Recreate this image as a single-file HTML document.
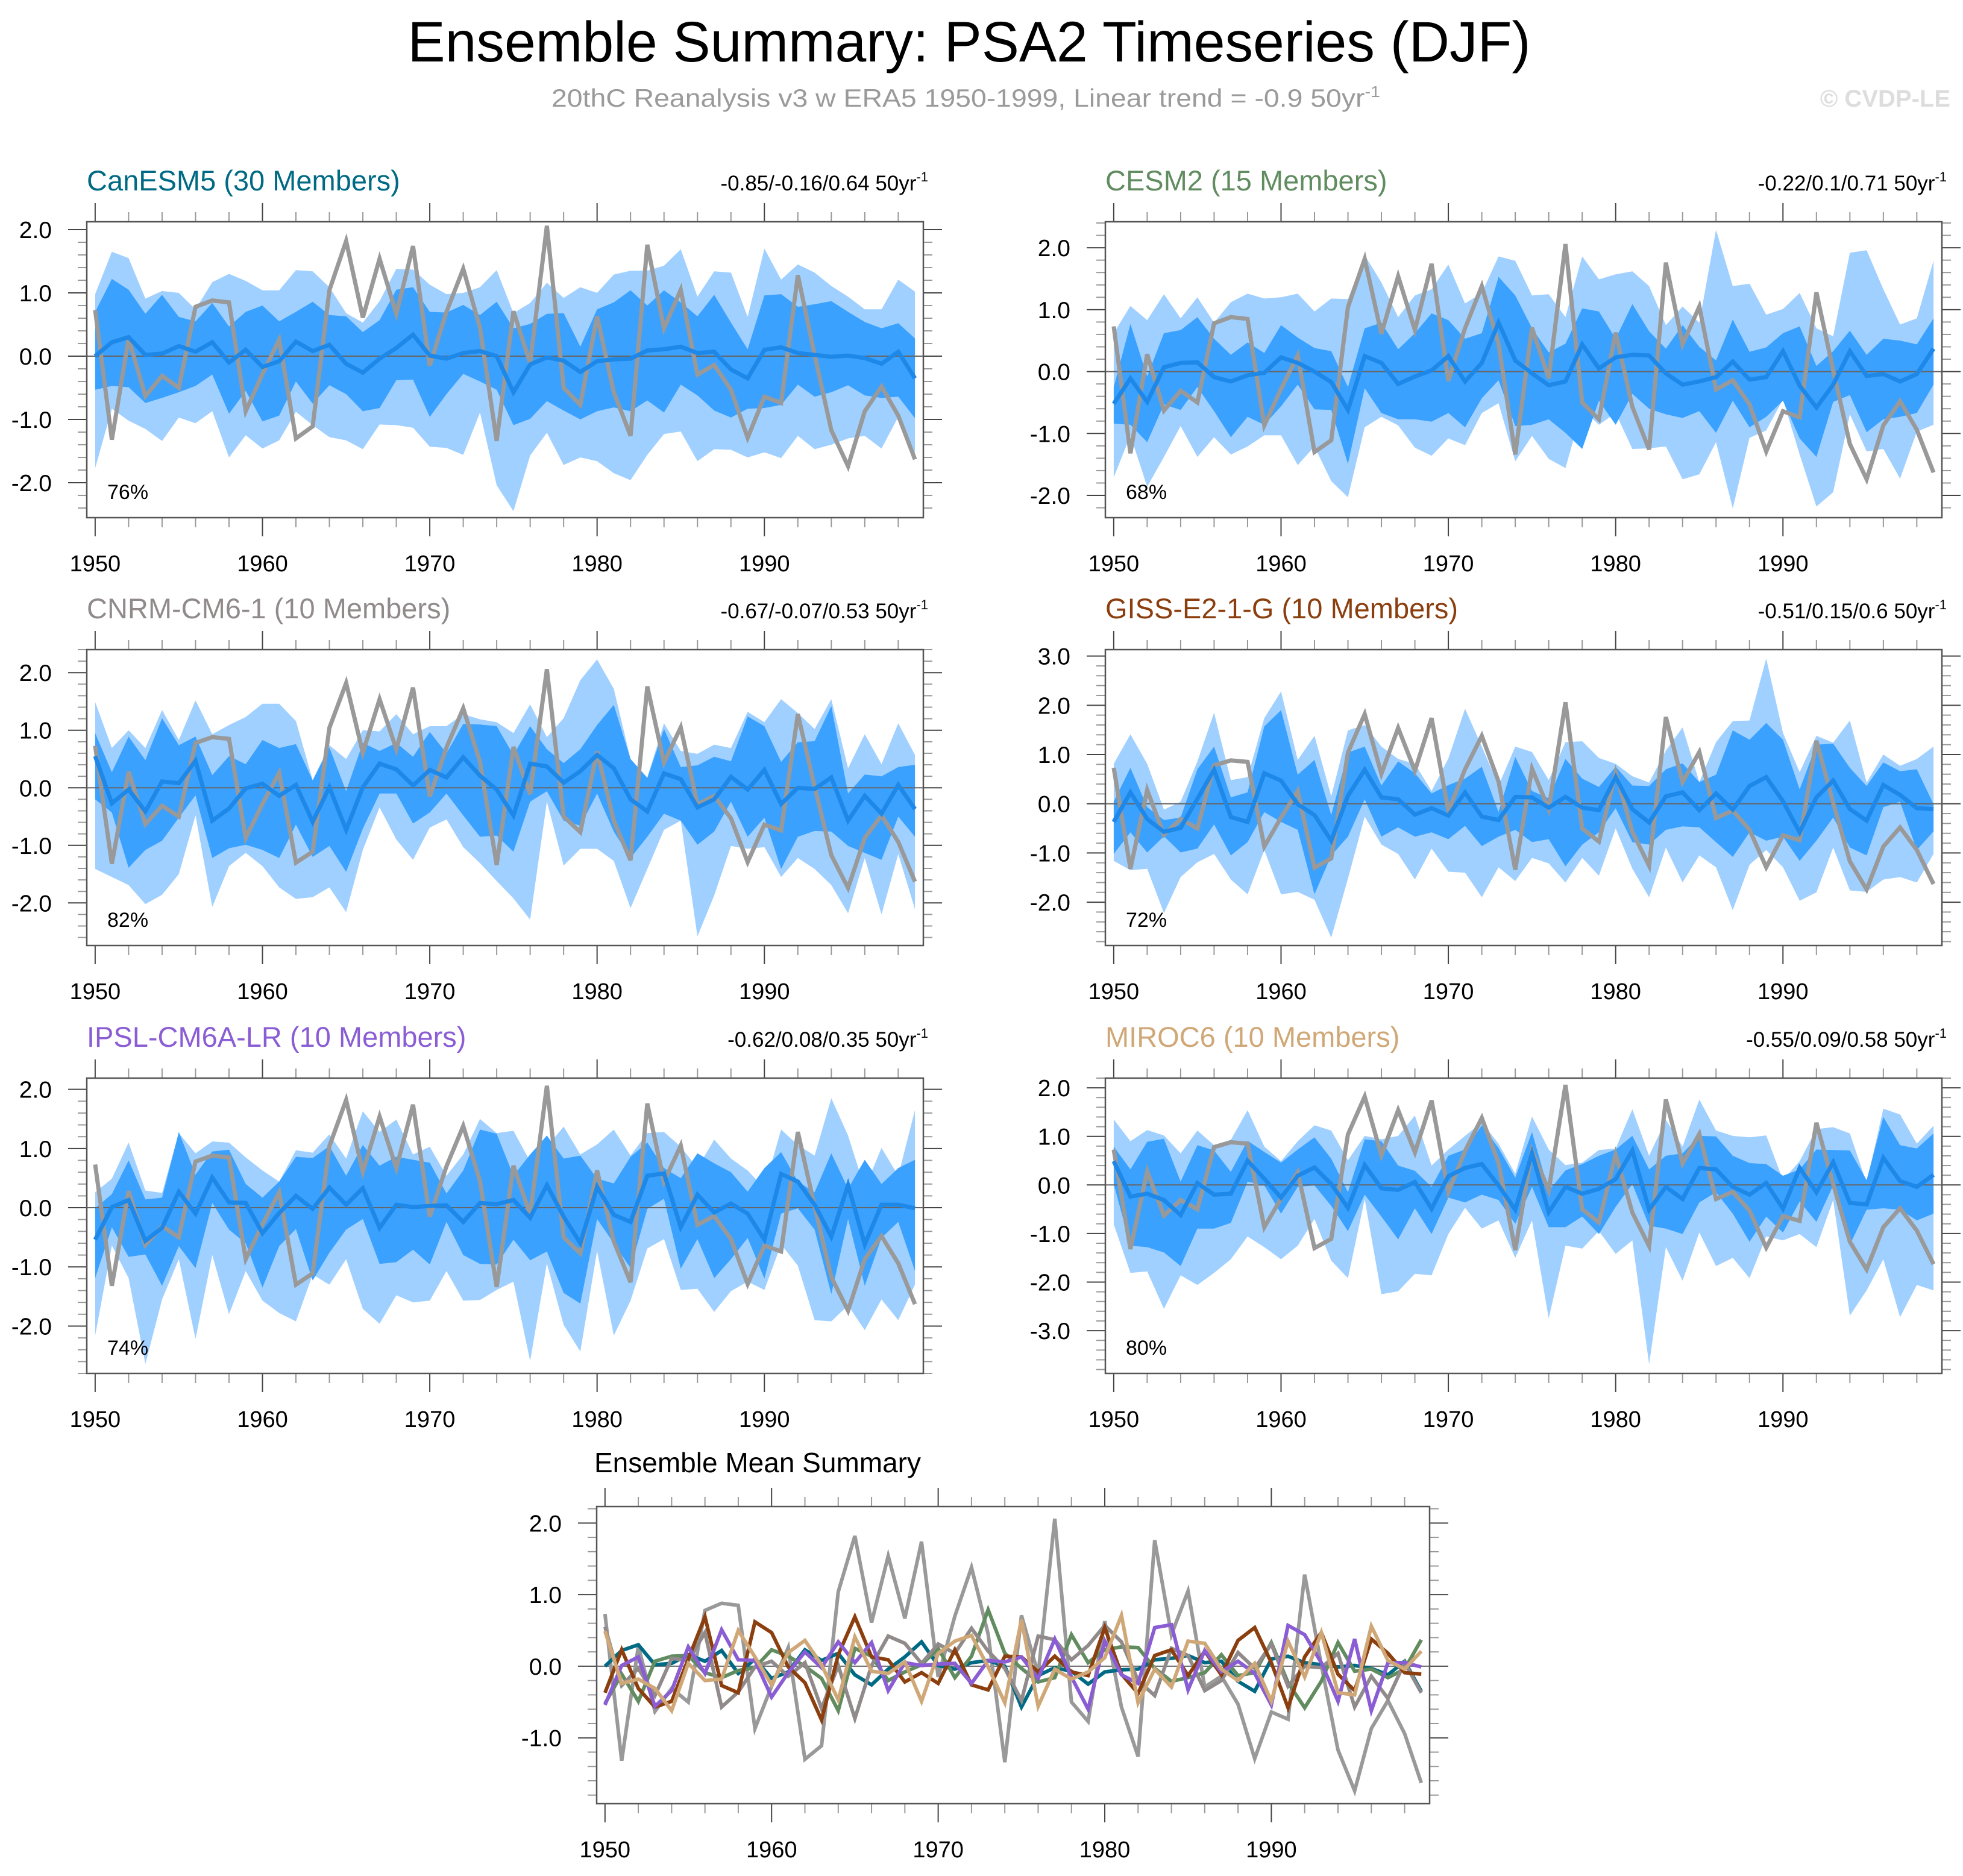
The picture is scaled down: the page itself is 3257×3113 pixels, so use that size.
<!DOCTYPE html>
<html><head><meta charset="utf-8"><title>Ensemble Summary: PSA2 Timeseries (DJF)</title>
<style>
html,body{margin:0;padding:0;background:#fff;}
svg{display:block;font-family:"Liberation Sans",sans-serif;}
</style></head>
<body>
<svg id="chart" xmlns="http://www.w3.org/2000/svg" width="3257" height="3113" viewBox="0 0 3257 3113">
<rect x="0" y="0" width="3257" height="3113" fill="#fff"/>
<text x="1608" y="102" font-size="95" text-anchor="middle" textLength="1863" lengthAdjust="spacingAndGlyphs">Ensemble Summary: PSA2 Timeseries (DJF)</text>
<text x="915" y="177" font-size="42" fill="#9a9a9a" textLength="1375" lengthAdjust="spacingAndGlyphs">20thC Reanalysis v3 w ERA5 1950-1999, Linear trend = -0.9 50yr<tspan dy="-16" font-size="26">-1</tspan></text>
<text x="3236" y="177" font-size="40" font-weight="bold" fill="#dddddd" text-anchor="end">© CVDP-LE</text>
<g id="panels"></g>
</svg>
<script>
const years = [];
for (let y = 1950; y <= 1999; y++) years.push(y);
const xTickLabels = ["1950","1960","1970","1980","1990"];

const obs = [0.73,-1.32,0.28,-0.63,-0.31,-0.50,0.78,0.88,0.85,-0.87,-0.28,0.26,-1.30,-1.11,1.04,1.82,0.61,1.54,0.67,1.74,-0.15,0.70,1.38,0.45,-1.34,0.71,-0.11,2.06,-0.50,-0.77,0.63,-0.57,-1.26,1.76,0.44,1.05,-0.29,-0.14,-0.53,-1.29,-0.64,-0.74,1.28,0.02,-1.17,-1.74,-0.87,-0.48,-0.94,-1.63];

const canMean = [0.0,0.22,0.30,0.02,0.04,0.16,0.07,0.22,-0.10,0.10,-0.17,-0.08,0.23,0.08,0.18,-0.12,-0.26,-0.04,0.13,0.34,0.01,-0.04,0.05,0.08,0.00,-0.57,-0.13,-0.02,-0.07,-0.25,-0.08,-0.05,-0.04,0.09,0.11,0.15,0.05,0.07,-0.21,-0.35,0.10,0.14,0.05,0.02,-0.01,0.01,-0.03,-0.12,0.07,-0.35];
const canDarkHi = [0.70,1.22,1.05,0.67,0.97,0.62,0.55,0.84,0.47,0.70,0.80,0.55,0.70,0.86,0.65,0.63,0.38,0.57,1.05,1.09,0.70,0.69,0.81,0.65,0.86,0.44,0.51,0.67,0.68,0.15,0.74,0.85,1.04,0.80,1.04,0.85,0.63,0.97,0.53,0.11,0.96,0.98,0.78,0.82,0.87,0.70,0.54,0.44,0.52,0.28];
const canDarkLo = [-0.53,-0.47,-0.49,-0.74,-0.66,-0.57,-0.47,-0.29,-0.91,-0.55,-1.03,-0.94,-0.40,-0.75,-0.46,-0.60,-0.87,-0.82,-0.38,-0.37,-0.96,-0.60,-0.28,-0.40,-0.53,-1.09,-0.99,-0.71,-0.86,-1.00,-0.87,-0.81,-0.87,-0.70,-0.89,-0.45,-0.62,-0.86,-0.97,-0.83,-0.82,-0.77,-0.45,-0.64,-0.57,-0.46,-0.62,-0.66,-0.64,-0.98];
const canLightHi = [0.98,1.65,1.55,0.91,1.03,1.00,0.74,1.17,1.30,1.19,1.04,1.04,1.36,1.34,1.09,0.68,0.53,0.87,1.38,1.37,1.13,0.98,1.00,1.09,1.36,0.68,0.84,1.16,0.92,1.09,1.00,1.29,1.35,1.35,1.43,1.69,0.94,1.34,1.32,0.62,1.70,1.21,1.45,1.32,1.11,0.94,0.74,0.74,1.21,1.02];
const canLightLo = [-1.77,-0.83,-1.02,-1.15,-1.34,-0.97,-1.06,-0.87,-1.60,-1.25,-1.46,-1.33,-0.88,-1.09,-1.28,-1.33,-1.47,-1.08,-1.09,-1.13,-1.43,-1.45,-1.56,-0.89,-2.04,-2.45,-1.57,-1.21,-1.72,-1.60,-1.66,-1.85,-1.96,-1.56,-1.23,-1.19,-1.66,-1.47,-1.48,-1.60,-1.52,-1.61,-1.26,-1.47,-1.40,-1.30,-1.26,-1.46,-0.96,-1.53];

const cesMean = [-0.52,-0.11,-0.49,0.07,0.14,0.15,-0.09,-0.16,-0.06,-0.02,0.23,0.14,0.0,-0.17,-0.62,0.25,0.14,-0.20,-0.08,0.02,0.25,-0.16,0.14,0.79,0.18,-0.03,-0.22,-0.16,0.44,0.05,0.23,0.27,0.26,-0.03,-0.21,-0.16,-0.09,0.16,-0.13,-0.09,0.33,-0.23,-0.58,-0.21,0.33,-0.07,-0.04,-0.16,-0.04,0.37];
const cesDarkHi = [-0.25,0.77,-0.08,0.62,0.67,0.88,0.53,0.27,0.47,0.30,0.75,0.55,0.38,0.33,-0.25,0.70,0.79,0.36,0.62,0.94,0.83,0.53,0.62,1.53,1.23,0.70,0.31,0.45,1.02,0.97,0.53,1.09,0.65,0.37,0.75,0.40,0.18,0.84,0.32,0.39,0.62,0.73,0.09,0.33,0.66,0.27,0.53,0.50,0.44,0.86];
const cesDarkLo = [-0.84,-0.86,-1.14,-0.53,-0.62,-0.25,-0.64,-1.06,-0.73,-0.86,-0.56,-0.21,-0.61,-0.62,-1.49,-0.27,-0.67,-0.77,-0.77,-0.81,-0.67,-0.90,-0.43,-0.14,-0.88,-0.86,-0.77,-0.99,-1.25,-0.47,-0.86,-0.36,-0.60,-0.69,-0.75,-0.64,-0.99,-0.47,-0.90,-0.73,-0.47,-1.08,-1.38,-0.49,-0.38,-0.98,-0.77,-0.73,-0.67,-0.21];
const cesLightHi = [0.62,1.06,0.83,1.25,0.86,1.20,0.79,1.12,1.26,1.18,1.20,1.26,0.97,1.18,1.17,1.88,1.44,0.88,1.23,1.33,1.73,1.10,1.27,1.86,1.79,1.23,1.25,0.88,1.86,1.49,1.57,1.62,1.38,0.75,1.05,0.79,2.29,1.38,1.42,0.92,1.01,1.27,0.70,0.57,1.92,1.96,1.33,0.76,0.86,1.79];
const cesLightLo = [-1.71,-1.03,-1.86,-1.38,-0.88,-1.38,-1.06,-1.34,-1.21,-1.03,-1.03,-1.51,-1.21,-1.77,-2.03,-0.90,-0.73,-0.87,-1.23,-1.36,-1.08,-1.19,-0.67,-0.51,-1.45,-1.04,-1.41,-1.56,-0.60,-0.86,-0.67,-1.25,-1.24,-1.21,-1.74,-1.66,-1.14,-2.21,-1.07,-0.95,-0.45,-1.34,-2.18,-1.95,-0.69,-1.29,-1.25,-1.73,-0.97,-0.86];

const cnrmMean = [0.55,-0.27,-0.03,-0.41,0.11,0.08,0.47,-0.57,-0.36,-0.01,0.07,-0.14,0.05,-0.59,0.01,-0.73,0.01,0.42,0.32,0.04,0.31,0.18,0.53,0.21,-0.03,-0.48,0.42,0.37,0.09,0.29,0.57,0.34,-0.20,-0.41,0.25,0.15,-0.34,-0.20,0.19,-0.03,0.31,-0.28,0.0,-0.02,0.18,-0.57,-0.14,-0.45,0.05,-0.37];
const cnrmDarkHi = [0.95,0.27,0.89,0.48,1.21,0.74,0.89,0.22,0.55,0.41,0.83,0.69,0.76,0.13,0.70,-0.06,0.78,0.64,0.78,0.54,0.97,0.60,1.11,1.10,1.07,0.57,1.07,0.67,0.43,0.67,1.09,1.44,0.50,0.17,1.02,0.36,0.39,0.54,0.46,1.24,1.07,0.45,0.79,0.81,1.42,-0.10,0.23,0.20,0.36,0.40];
const cnrmDarkLo = [-0.20,-0.43,-1.39,-1.08,-0.92,-0.52,-0.13,-1.22,-1.05,-0.99,-1.08,-1.22,-0.64,-1.20,-1.01,-1.46,-0.71,-0.10,-0.10,-0.62,-0.43,-0.10,-0.48,-0.85,-0.83,-1.11,-0.24,-0.06,-0.57,-0.66,-0.10,-0.76,-1.22,-0.85,-0.45,-0.57,-0.99,-0.76,-0.24,-0.85,-0.52,-1.41,-0.85,-0.75,-0.76,-1.01,-1.13,-1.25,-0.50,-0.85];
const cnrmLightHi = [1.49,0.69,1.00,0.69,1.35,0.83,1.52,0.93,1.09,1.23,1.46,1.46,1.16,0.13,0.74,0.50,1.00,0.98,1.28,0.93,1.07,1.07,1.28,1.19,1.14,0.95,1.45,0.88,1.21,1.87,2.23,1.72,0.50,0.18,1.12,0.64,0.59,0.75,0.69,1.32,1.14,1.54,1.30,1.02,1.54,0.34,0.93,0.41,1.12,0.57];
const cnrmLightLo = [-1.41,-1.55,-1.69,-2.02,-1.86,-1.50,-0.48,-2.07,-1.36,-1.13,-1.36,-1.73,-1.93,-1.90,-1.73,-2.16,-1.08,-0.34,-0.90,-1.25,-0.69,-0.55,-1.03,-1.31,-1.62,-1.92,-2.29,-0.24,-1.35,-1.06,-1.06,-1.27,-2.09,-1.41,-0.73,-0.57,-2.58,-1.87,-1.01,-1.06,-1.03,-1.55,-1.22,-1.41,-1.69,-2.18,-1.22,-2.20,-1.15,-2.11];

const gissMean = [-0.37,0.23,-0.31,-0.57,-0.49,0.10,0.69,-0.27,-0.37,0.62,0.47,-0.01,-0.23,-0.75,0.16,0.69,0.13,0.09,-0.22,-0.09,-0.24,0.23,-0.26,-0.33,0.14,0.13,-0.08,0.14,-0.08,-0.13,0.54,-0.11,-0.38,0.15,0.23,-0.13,0.21,-0.12,0.36,0.54,0.05,-0.58,0.13,0.47,-0.11,-0.34,0.38,0.18,-0.09,-0.11];
const gissDarkHi = [0.04,0.73,-0.07,-0.33,-0.28,0.70,1.16,0.13,0.23,1.57,1.90,0.59,0.89,-0.23,1.04,1.16,0.37,0.86,0.62,0.21,0.38,0.51,0.75,-0.17,0.95,0.26,0.11,0.91,0.51,0.34,0.75,0.37,0.36,0.70,0.82,0.44,0.59,1.49,1.30,1.64,1.30,0.29,1.20,1.22,0.73,0.36,0.84,0.66,0.70,-0.01];
const gissDarkLo = [-1.02,-0.58,-0.99,-0.66,-0.99,-0.91,-0.42,-1.05,-0.78,-0.17,-0.37,-0.53,-1.84,-1.05,-0.67,0.09,-0.67,-0.48,-0.67,-0.58,-0.72,-0.45,-0.86,-0.67,-0.53,-0.78,-0.72,-1.27,-0.83,-0.58,-0.09,-0.78,-0.83,-0.53,-0.46,-0.48,-0.78,-1.08,-0.58,-0.75,-0.67,-1.16,-0.75,-0.28,-0.89,-1.05,-0.07,0.04,-0.94,-0.56];
const gissLightHi = [0.81,1.41,0.81,-0.12,0.04,0.86,1.85,0.48,0.54,1.74,2.28,0.89,1.38,0.15,1.49,1.60,1.16,0.91,0.81,0.26,0.92,1.93,1.16,0.37,1.16,1.05,0.48,1.25,1.27,0.93,0.81,0.56,0.43,1.08,1.55,0.44,1.25,1.68,1.69,2.95,1.44,0.64,1.38,1.24,1.69,0.43,1.00,0.77,0.91,1.16];
const gissLightLo = [-1.16,-1.35,-1.32,-2.22,-1.49,-1.19,-1.02,-1.54,-1.84,-0.94,-1.84,-1.79,-1.95,-2.72,-1.52,-0.26,-0.83,-1.02,-1.54,-0.91,-1.38,-1.40,-1.90,-1.29,-1.57,-1.10,-1.21,-1.60,-1.10,-1.46,-0.50,-1.32,-1.90,-0.89,-1.60,-1.05,-1.29,-2.16,-1.24,-0.94,-1.29,-1.97,-1.80,-0.89,-1.76,-1.79,-1.54,-1.49,-1.60,-1.02];

const ipslMean = [-0.54,0.01,0.13,-0.56,-0.34,0.27,-0.10,0.51,0.09,0.08,-0.43,-0.09,0.20,-0.02,0.34,0.05,0.33,-0.34,0.05,0.01,0.03,0.04,-0.24,0.08,0.06,0.13,-0.17,0.38,-0.15,-0.60,0.35,-0.12,-0.24,0.54,0.58,-0.33,0.22,-0.08,0.07,-0.10,-0.54,0.57,0.44,0.05,-0.49,0.38,-0.62,0.05,0.05,-0.01];
const ipslDarkHi = [-0.01,0.23,0.80,0.14,0.17,1.28,0.56,0.95,0.98,0.40,0.17,0.44,0.86,0.84,1.04,0.54,1.06,0.71,0.86,0.81,0.76,0.24,0.63,1.32,1.25,0.54,0.90,1.22,0.83,0.88,0.49,0.41,0.86,1.10,0.67,0.50,0.92,0.75,0.60,0.27,0.67,0.94,0.44,0.26,0.92,0.32,0.81,0.40,0.67,0.81];
const ipslDarkLo = [-1.19,-0.33,-0.83,-0.79,-1.32,-0.65,-1.02,0.08,-0.37,-0.60,-1.35,-0.65,-0.36,-1.23,-0.76,-0.37,-0.19,-0.95,-0.92,-0.71,-0.96,-0.24,-0.80,-0.95,-0.96,-0.54,-0.89,-0.74,-1.44,-1.62,-0.19,-0.60,-1.02,-0.02,0.15,-1.03,-0.53,-1.19,-0.87,-0.51,-1.20,-0.10,-0.01,-0.37,-1.46,-0.19,-1.32,-0.51,-0.24,-1.07];
const ipslLightHi = [0.26,0.49,1.10,0.29,0.25,1.26,0.92,1.12,1.10,0.85,0.63,0.44,0.97,0.93,1.24,0.83,1.63,1.28,1.49,0.90,1.03,0.54,0.90,1.50,1.26,1.30,0.78,1.03,1.37,0.90,1.07,1.32,0.88,1.26,1.28,1.03,0.67,1.15,0.83,0.63,0.33,1.32,1.06,0.88,1.85,1.22,0.33,1.01,0.54,1.65];
const ipslLightLo = [-2.16,-0.64,-1.19,-2.64,-1.55,-0.87,-2.22,-0.80,-1.80,-1.07,-1.57,-1.78,-1.92,-1.13,-1.30,-0.87,-1.71,-1.96,-1.48,-1.60,-1.57,-1.07,-1.57,-1.56,-1.39,-1.25,-2.59,-0.94,-1.98,-2.43,-0.73,-2.16,-1.57,-0.69,-0.53,-1.39,-1.37,-1.76,-1.41,-1.25,-1.39,-0.62,-0.98,-1.90,-1.92,-1.65,-2.07,-1.55,-1.90,-1.30];

const mirocMean = [0.49,-0.24,-0.18,-0.31,-0.62,0.04,-0.20,-0.18,0.50,0.13,-0.26,0.19,0.36,0.02,-0.47,0.41,-0.07,-0.10,0.06,-0.49,0.18,0.35,0.43,-0.01,-0.51,0.65,-0.56,-0.04,-0.18,-0.08,0.12,0.71,-0.51,-0.04,-0.29,0.35,0.32,-0.04,-0.20,0.04,-0.49,0.35,-0.15,0.47,-0.37,-0.40,0.56,0.08,-0.04,0.21];
const mirocDarkHi = [0.79,0.32,0.89,0.95,0.07,0.82,0.71,0.27,0.91,0.68,0.46,0.73,0.98,0.54,-0.15,0.94,0.90,0.40,0.29,-0.04,0.60,0.73,1.23,0.76,0.15,1.09,-0.12,0.30,0.43,0.60,0.73,1.01,0.32,0.60,0.65,1.01,1.00,0.60,0.45,0.43,0.19,0.32,0.73,0.72,0.71,0.10,1.40,0.82,0.75,1.06];
const mirocDarkLo = [0.02,-1.25,-1.28,-1.39,-1.67,-0.90,-0.90,-0.78,0.07,-0.01,-0.59,-0.04,-0.01,-0.43,-0.95,-0.20,-0.65,-1.12,-0.48,-1.01,-0.26,-0.36,-0.20,-0.31,-0.80,-0.04,-0.87,-0.87,-0.65,-1.01,-0.45,0.02,-0.84,-0.90,-1.01,-0.36,-0.15,-0.59,-1.17,-0.65,-0.98,-0.34,-0.76,-0.01,-1.23,-0.51,-0.48,-0.51,-0.73,-0.59];
const mirocLightHi = [1.35,0.90,1.13,1.02,0.65,1.12,0.82,0.93,1.54,0.79,0.49,0.90,1.23,1.12,0.51,1.01,0.94,1.01,1.43,0.40,0.73,1.01,1.29,0.85,0.23,1.41,0.73,0.41,0.46,0.72,0.75,1.56,0.60,1.34,0.79,1.76,1.12,1.01,0.98,1.02,0.10,0.49,1.15,1.19,1.06,0.04,1.57,1.45,0.85,1.22];
const mirocLightLo = [-0.81,-1.81,-1.78,-2.55,-1.86,-2.06,-1.81,-1.53,-1.06,-1.28,-1.53,-1.25,-0.70,-1.56,-1.92,-0.29,-2.25,-2.19,-1.83,-1.86,-1.01,-0.47,-0.90,-0.73,-1.50,-0.73,-2.75,-1.25,-1.31,-0.95,-1.42,-1.14,-3.69,-1.28,-1.97,-0.98,-1.67,-1.50,-1.92,-1.06,-1.14,-1.01,-1.28,-0.31,-2.69,-2.17,-1.53,-2.72,-2.06,-2.17];

const modelNames = ["CanESM5 (30 Members)","CESM2 (15 Members)","CNRM-CM6-1 (10 Members)","GISS-E2-1-G (10 Members)","IPSL-CM6A-LR (10 Members)","MIROC6 (10 Members)"];
const trendLabels = ["-0.85/-0.16/0.64 50yr","-0.22/0.1/0.71 50yr","-0.67/-0.07/0.53 50yr","-0.51/0.15/0.6 50yr","-0.62/0.08/0.35 50yr","-0.55/0.09/0.58 50yr"];
const pctLabels = ["76%","68%","82%","72%","74%","80%"];

const NS = "http://www.w3.org/2000/svg";
const root = document.getElementById("panels");
function el(tag, attrs, parent) {
  const e = document.createElementNS(NS, tag);
  for (const k in attrs) e.setAttribute(k, attrs[k]);
  (parent || root).appendChild(e);
  return e;
}

const layouts = [
  {x0:144,x1:1532,y0:368,y1:859,ymin:-2.552,ymax:2.124,slug:"canesm5",color:"#006a85"},
  {x0:1834,x1:3222,y0:368,y1:859,ymin:-2.36,ymax:2.42,slug:"cesm2",color:"#618c60"},
  {x0:144,x1:1532,y0:1078,y1:1569,ymin:-2.74,ymax:2.40,slug:"cnrm-cm6-1",color:"#918a8b"},
  {x0:1834,x1:3222,y0:1078,y1:1569,ymin:-2.88,ymax:3.13,slug:"giss-e2-1-g",color:"#8b3e0e"},
  {x0:144,x1:1532,y0:1789,y1:2279,ymin:-2.80,ymax:2.19,slug:"ipsl-cm6a-lr",color:"#8a5dd4"},
  {x0:1834,x1:3222,y0:1789,y1:2279,ymin:-3.88,ymax:2.20,slug:"miroc6",color:"#d0a878"}
];
const panelData = [
  [canMean,canDarkHi,canDarkLo,canLightHi,canLightLo],
  [cesMean,cesDarkHi,cesDarkLo,cesLightHi,cesLightLo],
  [cnrmMean,cnrmDarkHi,cnrmDarkLo,cnrmLightHi,cnrmLightLo],
  [gissMean,gissDarkHi,gissDarkLo,gissLightHi,gissLightLo],
  [ipslMean,ipslDarkHi,ipslDarkLo,ipslLightHi,ipslLightLo],
  [mirocMean,mirocDarkHi,mirocDarkLo,mirocLightHi,mirocLightLo]
];

function makeScales(L) {
  const n = years.length;
  const xs = i => L.x0 + (i + 0.5) / n * (L.x1 - L.x0);
  const xYear = yr => xs(yr - years[0]);
  const ys = v => L.y1 - (v - L.ymin) / (L.ymax - L.ymin) * (L.y1 - L.y0);
  return {xs, xYear, ys};
}

function drawAxes(L, S, g, idx) {
  const ln = "#555";
  const start = Math.ceil(L.ymin * 5 - 1e-6), end = Math.floor(L.ymax * 5 + 1e-6);
  for (let k = start; k <= end; k++) {
    const v = k / 5, y = S.ys(v);
    const major = (k % 5 === 0);
    const len = major ? 31 : 15;
    const tl = el("line", {x1:L.x0-len, x2:L.x0, y1:y, y2:y, stroke: major?"#444":"#999", "stroke-width":2}, g);
    
    
    const tr = el("line", {x1:L.x1, x2:L.x1+len, y1:y, y2:y, stroke: major?"#444":"#999", "stroke-width":2}, g);
    
    
    if (major) {
      const t = el("text", {x:L.x0-58, y:y+14, "font-size":39, "text-anchor":"end"}, g);
      
      
      t.textContent = v.toFixed(1);
    }
  }
  years.forEach((yr, i) => {
    if ((yr - 1950) % 2 !== 0) return;
    const x = S.xs(i);
    const major = (yr % 10 === 0);
    const len = major ? 31 : 16;
    const bt = el("line", {x1:x, x2:x, y1:L.y1, y2:L.y1+len, stroke: major?"#444":"#999", "stroke-width":2}, g);
    
    
    const tt = el("line", {x1:x, x2:x, y1:L.y0-len, y2:L.y0, stroke: major?"#444":"#999", "stroke-width":2}, g);
    
    
  });
  xTickLabels.forEach(lbl => {
    const x = S.xYear(parseInt(lbl, 10));
    const t = el("text", {x:x, y:L.y1+89, "font-size":38, "text-anchor":"middle"}, g);
    
    
    t.textContent = lbl;
  });
  const frame = el("rect", {x:L.x0, y:L.y0, width:L.x1-L.x0, height:L.y1-L.y0, fill:"none", stroke:ln, "stroke-width":2.5}, g);
  
  
}

function linePath(arr, S) {
  return arr.map((v, i) => (i ? "L" : "M") + S.xs(i).toFixed(1) + "," + S.ys(v).toFixed(1)).join(" ");
}
function bandPath(hi, lo, S) {
  let d = hi.map((v, i) => (i ? "L" : "M") + S.xs(i).toFixed(1) + "," + S.ys(v).toFixed(1)).join(" ");
  for (let i = lo.length - 1; i >= 0; i--) d += " L" + S.xs(i).toFixed(1) + "," + S.ys(lo[i]).toFixed(1);
  return d + " Z";
}

layouts.forEach((L, idx) => {
  const S = makeScales(L);
  const [mean, dHi, dLo, lHi, lLo] = panelData[idx];
  const g = el("g", {});
  
  
  const cp = el("clipPath", {id: "clip" + idx}, g);
  el("rect", {x:L.x0, y:L.y0, width:L.x1-L.x0, height:L.y1-L.y0}, cp);
  const plot = el("g", {"clip-path": "url(#clip" + idx + ")"}, g);

  const lb = el("path", {d: bandPath(lHi, lLo, S), fill:"#a0d0ff", stroke:"none"}, plot);
  
  
  const db = el("path", {d: bandPath(dHi, dLo, S), fill:"#3aa1ff", stroke:"none"}, plot);
  
  
  const zl = el("line", {x1:L.x0, x2:L.x1, y1:S.ys(0), y2:S.ys(0), stroke:"#666", "stroke-width":2}, plot);
  
  
  const ol = el("path", {d: linePath(obs, S), fill:"none", stroke:"#999", "stroke-width":7}, plot);
  
  
  const ml = el("path", {d: linePath(mean, S), fill:"none", stroke:"#1e88e8", "stroke-width":7}, plot);
  
  

  drawAxes(L, S, g, idx);

  const title = el("text", {x:L.x0, y:L.y0-52, "font-size":47, fill:L.color}, g);
  
  
  title.textContent = modelNames[idx];

  const tr = el("text", {x:L.x1+8, y:L.y0-52, "font-size":35, "text-anchor":"end"}, g);
  
  
  tr.appendChild(document.createTextNode(trendLabels[idx]));
  const sup = el("tspan", {dy:-15, "font-size":22}, tr);
  sup.textContent = "-1";

  const pc = el("text", {x:L.x0+34, y:L.y1-31, "font-size":34}, g);
  
  
  pc.textContent = pctLabels[idx];
});

const summaryLayout = {x0:990,x1:2372,y0:2500,y1:2993,ymin:-1.92,ymax:2.23};
const summaryColors = ["#006a85","#618c60","#918a8b","#8b3e0e","#8a5dd4","#d0a878"];
(function(){
  const L = summaryLayout;
  const S = makeScales(L);
  const g = el("g", {});
  
  
  const cp = el("clipPath", {id: "clipS"}, g);
  el("rect", {x:L.x0, y:L.y0, width:L.x1-L.x0, height:L.y1-L.y0}, cp);
  const plot = el("g", {"clip-path": "url(#clipS)"}, g);
  const zl = el("line", {x1:L.x0, x2:L.x1, y1:S.ys(0), y2:S.ys(0), stroke:"#666", "stroke-width":2}, plot);
  
  
  const ol = el("path", {d: linePath(obs, S), fill:"none", stroke:"#999", "stroke-width":6}, plot);
  
  
  panelData.forEach((pd, i) => {
    const p = el("path", {d: linePath(pd[0], S), fill:"none", stroke:summaryColors[i], "stroke-width":6}, plot);
    
    
  });
  drawAxes(L, S, g, 6);
  const t = el("text", {x:L.x0-4, y:L.y0-57, "font-size":46}, g);
  
  
  t.textContent = "Ensemble Mean Summary";
})();
</script>
</body></html>
